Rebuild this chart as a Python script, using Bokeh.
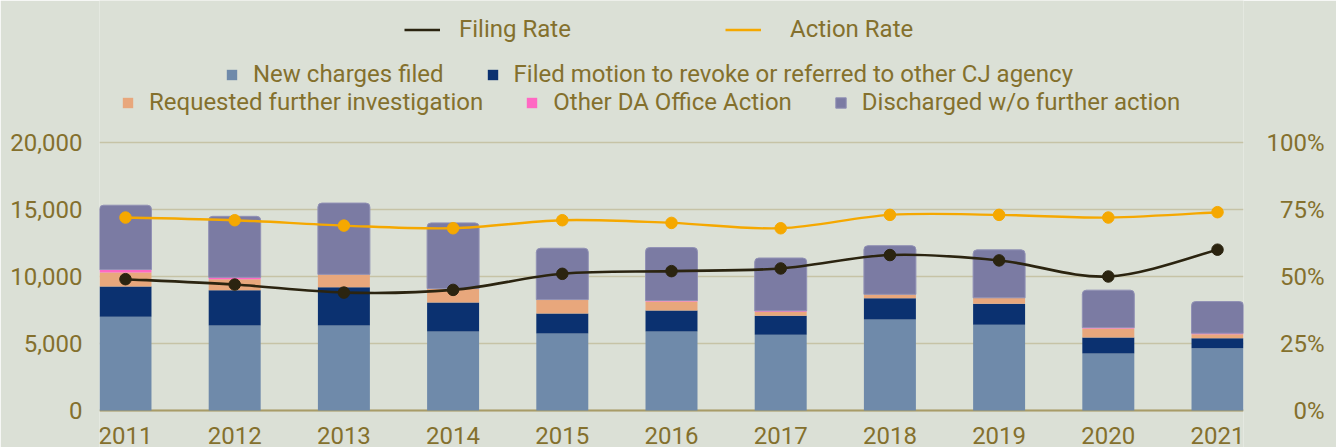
import numpy as np
from bokeh.plotting import figure
from bokeh.models import (Range1d, LinearAxis, FixedTicker, NumeralTickFormatter,
                          Legend, LegendItem, ColumnDataSource, Span)
from bokeh.embed import file_html
from bokeh.resources import INLINE

# ---------------- data ----------------
years = ["2011", "2012", "2013", "2014", "2015", "2016", "2017", "2018", "2019", "2020", "2021"]
new_charges = [7000, 6350, 6350, 5900, 5750, 5900, 5650, 6800, 6400, 4250, 4650]
filed_motion = [2250, 2620, 2840, 2160, 1490, 1560, 1420, 1570, 1570, 1200, 740]
requested_investigation = [1050, 820, 970, 1040, 1040, 670, 300, 300, 440, 670, 300]
other_da_action = [220, 150, 0, 0, 0, 80, 70, 0, 0, 70, 80]
discharged = [4800, 4550, 5320, 4900, 3830, 3950, 3940, 3630, 3580, 2790, 2360]
filing_rate = [49, 47, 44, 45, 51, 52, 53, 58, 56, 50, 60]   # percent
action_rate = [72, 71, 69, 68, 71, 70, 68, 73, 73, 72, 74]   # percent

left_ticks = [0, 5000, 10000, 15000, 20000]
right_ticks = [0, 25, 50, 75, 100]
right_labels = ["\u2007\u20070%", "\u200725%", "\u200750%", "\u200775%", "100%"]

series_names = ["New charges filed",
                "Filed motion to revoke or referred to other CJ agency",
                "Requested further investigation",
                "Other DA Office Action",
                "Discharged w/o further action"]
series_values = [new_charges, filed_motion, requested_investigation, other_da_action, discharged]
series_colors = ["#6f8aaa", "#0b3170", "#e8a77c", "#ff68c3", "#7b7ba3"]

# ---------------- style / layout ----------------
BG = "#dbe0d6"
TXT = "#84702d"
GRID = "#c6c3a6"
FONT = "Roboto"
BAR_W = 0.476

FIG_W, FIG_H = 1336, 447
FRAME_TOP_PX = 142      # pixel row of the 20,000 / 100% line
FRAME_ZERO_PX = 410     # pixel row of the 0 line
px_per_unit = (FRAME_ZERO_PX - FRAME_TOP_PX) / 20000.0
y_lo = -(FIG_H - FRAME_ZERO_PX) / px_per_unit
y_hi = 20000 + FRAME_TOP_PX / px_per_unit

x = np.arange(len(years))
p = figure(width=FIG_W, height=FIG_H, output_backend="svg", toolbar_location=None,
           x_range=Range1d(-BAR_W / 2, len(years) - 1 + BAR_W / 2),
           y_range=Range1d(y_lo, y_hi),
           min_border_left=99, min_border_right=93, min_border_top=0, min_border_bottom=0,
           background_fill_color=BG, border_fill_color=BG, outline_line_color=None)
p.extra_y_ranges = {"pct": Range1d(y_lo / 200.0, y_hi / 200.0)}

p.add_layout(Span(location=0, dimension="width", line_color="#a89c68", line_width=2,
                  level="underlay"))

# stacked bars
bottom = np.zeros(len(years))
bar_renderers = []
for i, (vals, col) in enumerate(zip(series_values, series_colors)):
    top = bottom + np.array(vals, float)
    if i == len(series_values) - 1:
        kw = dict(border_radius=(4, 4, 0, 0), line_color="#9191b5", line_width=1)
    else:
        kw = dict(line_color=None)
    r = p.vbar(x=x, bottom=bottom.copy(), top=top, width=BAR_W, fill_color=col, **kw)
    bar_renderers.append(r)
    bottom = top


def smooth_segments(xs, ys):
    xs = np.asarray(xs, float)
    ys = np.asarray(ys, float)
    xp = np.concatenate([[xs[0]], xs, [xs[-1]]])
    yp = np.concatenate([[ys[0]], ys, [ys[-1]]])
    i = np.arange(len(xs) - 1)
    return dict(
        x0=xp[i + 1], y0=yp[i + 1], x1=xp[i + 2], y1=yp[i + 2],
        cx0=xp[i + 1] + (xp[i + 2] - xp[i]) / 6, cy0=yp[i + 1] + (yp[i + 2] - yp[i]) / 6,
        cx1=xp[i + 2] - (xp[i + 3] - xp[i + 1]) / 6, cy1=yp[i + 2] - (yp[i + 3] - yp[i + 1]) / 6,
    )


FILING_C = "#2b2410"
ACTION_C = "#f5a800"
bz_f = p.bezier(source=ColumnDataSource(smooth_segments(x, filing_rate)), x0="x0", y0="y0",
                x1="x1", y1="y1", cx0="cx0", cy0="cy0", cx1="cx1", cy1="cy1",
                line_color=FILING_C, line_width=2.6, y_range_name="pct")
p.scatter(x=x, y=filing_rate, size=11.5, fill_color=FILING_C, line_color=FILING_C, y_range_name="pct")
bz_a = p.bezier(source=ColumnDataSource(smooth_segments(x, action_rate)), x0="x0", y0="y0",
                x1="x1", y1="y1", cx0="cx0", cy0="cy0", cx1="cx1", cy1="cy1",
                line_color=ACTION_C, line_width=2.4, y_range_name="pct")
p.scatter(x=x, y=action_rate, size=11.5, fill_color=ACTION_C, line_color=ACTION_C, y_range_name="pct")

# axes
xax = p.xaxis[0]
xax.fixed_location = 0
xax.ticker = FixedTicker(ticks=list(x))
xax.major_label_overrides = {int(i): y for i, y in zip(x, years)}
xax.axis_line_color = None
xax.major_label_standoff = 16

yax = p.yaxis[0]
yax.ticker = FixedTicker(ticks=left_ticks)
yax.formatter = NumeralTickFormatter(format="0,0")
yax.axis_line_color = None
yax.major_label_standoff = 17

right = LinearAxis(y_range_name="pct", ticker=FixedTicker(ticks=right_ticks),
                   major_label_overrides={t: l for t, l in zip(right_ticks, right_labels)})
right.axis_line_color = None
right.major_label_standoff = 23
p.add_layout(right, "right")

for ax in [xax, yax, right]:
    ax.major_tick_line_color = None
    ax.minor_tick_line_color = None
    ax.major_tick_out = 0
    ax.major_tick_in = 0
    ax.minor_tick_out = 0
    ax.minor_tick_in = 0
    ax.major_label_text_font = FONT
    ax.major_label_text_font_size = "24px"
    ax.major_label_text_color = TXT

p.xgrid.grid_line_color = None
p.ygrid.ticker = FixedTicker(ticks=left_ticks)
p.ygrid.grid_line_color = GRID
p.ygrid.grid_line_width = 1.5

# legends (positions in pixels from the frame's bottom-left corner)
common = dict(orientation="horizontal", background_fill_alpha=0, border_line_alpha=0,
              padding=0, margin=0, label_text_font=FONT, label_text_font_size="24px",
              label_text_color=TXT)
leg1a = Legend(items=[LegendItem(label="Filing Rate", renderers=[bz_f])],
               location=(305, 404), glyph_width=36, glyph_height=13, label_standoff=19,
               **common)
leg1b = Legend(items=[LegendItem(label="Action Rate", renderers=[bz_a])],
               location=(626, 404), glyph_width=36, glyph_height=13, label_standoff=29,
               **common)
leg2 = Legend(items=[LegendItem(label=series_names[0], renderers=[bar_renderers[0]]),
                     LegendItem(label=series_names[1], renderers=[bar_renderers[1]])],
              location=(126, 359), glyph_width=13, glyph_height=13, label_standoff=15,
              spacing=42, **common)
leg3 = Legend(items=[LegendItem(label=series_names[2], renderers=[bar_renderers[2]]),
                     LegendItem(label=series_names[3], renderers=[bar_renderers[3]]),
                     LegendItem(label=series_names[4], renderers=[bar_renderers[4]])],
              location=(22, 331), glyph_width=13, glyph_height=13, label_standoff=15,
              spacing=42, **common)
for lg in (leg1a, leg1b, leg2, leg3):
    p.add_layout(lg)

open("out.html", "w").write(file_html(p, INLINE, title="Filing and Action Rates"))
